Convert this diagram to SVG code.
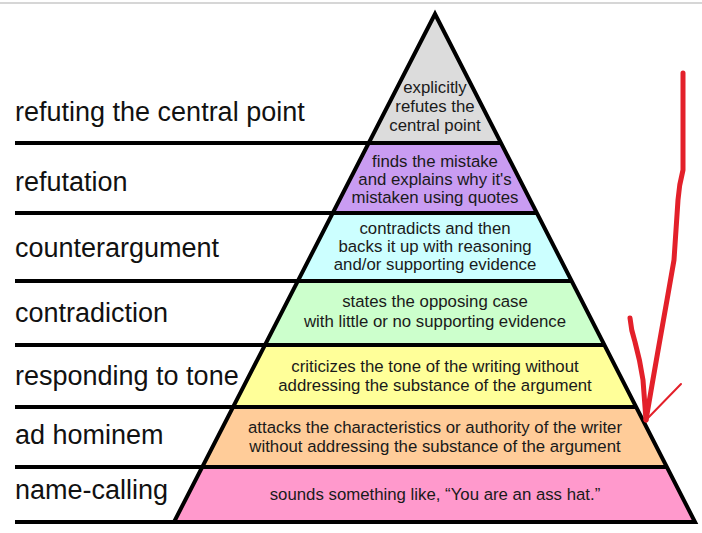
<svg xmlns="http://www.w3.org/2000/svg" width="702" height="533" viewBox="0 0 702 533">
<style>
.lbl{font-family:"Liberation Sans",Arial,sans-serif;font-size:27px;fill:#111}
.txt{font-family:"Liberation Sans",Arial,sans-serif;font-size:16.8px;fill:#1a1a1a;text-anchor:middle}
.sep{stroke:#000;stroke-width:4;fill:none}
.red{stroke:#e3202a;fill:none;stroke-linecap:round;stroke-linejoin:round}
</style>
<defs>
<clipPath id="tri"><polygon points="435,14 174,522 695,522"/></clipPath>
</defs>
<rect width="702" height="533" fill="#fff"/>
<line x1="0" y1="3" x2="702" y2="3" stroke="#c8c8c8" stroke-width="1.5"/>
<g clip-path="url(#tri)">
<rect x="0" y="0" width="702" height="143" fill="#dcdcdc"/>
<rect x="0" y="143" width="702" height="70" fill="#c99cf2"/>
<rect x="0" y="213" width="702" height="68" fill="#ccffff"/>
<rect x="0" y="281" width="702" height="64" fill="#ccffcc"/>
<rect x="0" y="345" width="702" height="62" fill="#ffff99"/>
<rect x="0" y="407" width="702" height="60" fill="#ffcc99"/>
<rect x="0" y="467" width="702" height="56" fill="#ff99cc"/>
</g>
<g id="connectors">
<line class="sep" x1="15" y1="143" x2="501" y2="143"/>
<line class="sep" x1="15" y1="213" x2="537" y2="213"/>
<line class="sep" x1="15" y1="281" x2="572" y2="281"/>
<line class="sep" x1="15" y1="345" x2="604" y2="345"/>
<line class="sep" x1="15" y1="407" x2="636" y2="407"/>
<line class="sep" x1="15" y1="467" x2="667" y2="467"/>
<line class="sep" x1="15" y1="522" x2="695" y2="522"/>
</g>
<polygon points="435,14 174,522 695,522" fill="none" stroke="#000" stroke-width="4" stroke-linejoin="miter"/>
<g id="level-refuting-central-point">
<text class="lbl" x="15" y="121">refuting the central point</text>
<text class="txt" x="435" y="93">explicitly</text>
<text class="txt" x="435" y="112">refutes the</text>
<text class="txt" x="435" y="131">central point</text>
</g>
<g id="level-refutation">
<text class="lbl" x="15" y="191">refutation</text>
<text class="txt" x="435" y="167">finds the mistake</text>
<text class="txt" x="435" y="185">and explains why it's</text>
<text class="txt" x="435" y="203">mistaken using quotes</text>
</g>
<g id="level-counterargument">
<text class="lbl" x="15" y="257">counterargument</text>
<text class="txt" x="435" y="234">contradicts and then</text>
<text class="txt" x="435" y="252">backs it up with reasoning</text>
<text class="txt" x="435" y="270">and/or supporting evidence</text>
</g>
<g id="level-contradiction">
<text class="lbl" x="15" y="322">contradiction</text>
<text class="txt" x="435" y="307">states the opposing case</text>
<text class="txt" x="435" y="327">with little or no supporting evidence</text>
</g>
<g id="level-responding-to-tone">
<text class="lbl" x="15" y="385">responding to tone</text>
<text class="txt" x="435" y="372">criticizes the tone of the writing without</text>
<text class="txt" x="435" y="391">addressing the substance of the argument</text>
</g>
<g id="level-ad-hominem">
<text class="lbl" x="15" y="444">ad hominem</text>
<text class="txt" x="435" y="433">attacks the characteristics or authority of the writer</text>
<text class="txt" x="435" y="452">without addressing the substance of the argument</text>
</g>
<g id="level-name-calling">
<text class="lbl" x="15" y="499">name-calling</text>
<text class="txt" x="435" y="500">sounds something like, “You are an ass hat.”</text>
</g>
<g id="annotation-arrow">
<path class="red" stroke-width="5" d="M683,73 L683,170 Q679,185 678,200 L674,260 L667,300 L659,345 L652,385 L646,420"/>
<path class="red" stroke-width="5" d="M630,318 Q631,330 635,342 Q640,360 643,380 L646,420"/>
<path class="red" stroke-width="2" d="M681,384 L646,420"/>
</g>
</svg>
